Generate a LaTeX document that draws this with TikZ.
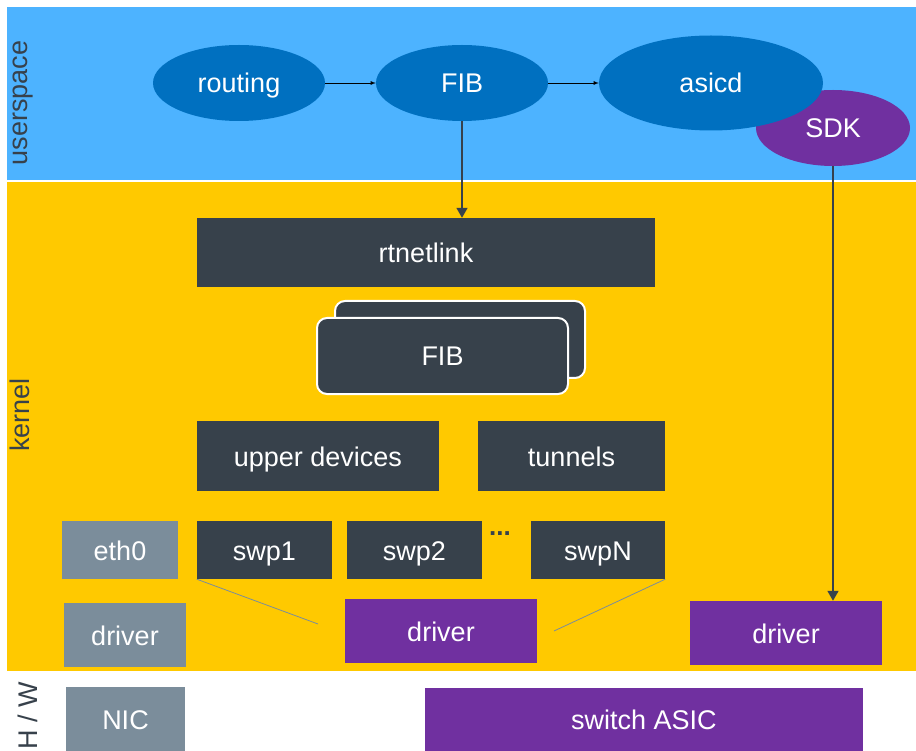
\documentclass[tikz,border=0pt]{standalone}
\usepackage{fontspec}
\setmainfont{Liberation Sans}
\usetikzlibrary{positioning,shapes.geometric,arrows,arrows.meta}
\definecolor{skyblue}{HTML}{4DB3FF}
\definecolor{ellblue}{HTML}{0070C0}
\definecolor{kernyellow}{HTML}{FFC900}
\definecolor{slate}{HTML}{37414B}
\definecolor{steel}{HTML}{7B8D9B}
\definecolor{asicpurple}{HTML}{7030A0}

\begin{document}
\begin{tikzpicture}[x=1pt,y=-1pt,
	lbl/.style={font=\fontsize{27}{31}\selectfont, text=white, inner sep=0pt, text height=21pt, text depth=1pt},
	proc/.style={lbl, ellipse, fill=ellblue},
	kbox/.style={lbl, rectangle, fill=slate},
	gbox/.style={lbl, rectangle, fill=steel},
	pbox/.style={lbl, rectangle, fill=asicpurple},
	fibbox/.style={kbox, rounded corners=10pt, draw=white, line width=2pt},
	layer/.style={font=\fontsize{27}{31}\selectfont, text=slate, rotate=90, inner sep=0pt}]
	\useasboundingbox (0, 0) rectangle (916, 751);

	% layers
	\fill[skyblue] (7, 7) rectangle (916, 180);
	\fill[kernyellow] (7, 182) rectangle (916, 671);
	\node[layer] (luser) at (23, 103) {userspace};
	\node[layer] (lkern) at (20, 415) {kernel};
	\node[layer] (lhw) at (28, 716) {H / W};

	% userspace
	\node[proc, minimum width=172, minimum height=76] (routing) at (239, 83) {routing};
	\node[proc, minimum width=172, minimum height=76] (fibu) at (462, 83) {FIB};
	\node[proc, fill=asicpurple, minimum width=154, minimum height=76] (sdk) at (833, 128) {SDK};
	\node[proc, minimum width=224, minimum height=95] (asicd) at (711, 83) {asicd};
	\draw[arrows=-latex, line width=0.8pt] (routing.east) -- (fibu.west);
	\draw[arrows=-latex, line width=0.8pt] (fibu.east) -- (asicd.west);

	% kernel
	\node[kbox, minimum width=458, minimum height=69] (rtnl) at (426, 252.5) {rtnetlink};
	\node[fibbox, minimum width=250, minimum height=77] (fibback) at (460, 339.5) {};
	\node[fibbox, minimum width=251, minimum height=76] (fibk) at (442.5, 356) {FIB};
	\node[kbox, minimum width=242, minimum height=70] (upper) at (318, 456) {upper devices};
	\node[kbox, minimum width=187, minimum height=70] (tunnels) at (571.5, 456) {tunnels};
	\node[gbox, minimum width=116, minimum height=58] (eth0) at (120, 550) {eth0};
	\node[kbox, minimum width=135, minimum height=58] (swp1) at (264.5, 550) {swp1};
	\node[kbox, minimum width=135, minimum height=58] (swp2) at (414.5, 550) {swp2};
	\node[font=\fontsize{26}{30}\selectfont\bfseries, text=slate, inner sep=0pt, anchor=base] (dots) at (500, 535) {...};
	\node[kbox, minimum width=134, minimum height=58] (swpN) at (598, 550) {swpN};
	\node[gbox, minimum width=122, minimum height=64] (drveth) at (125, 635) {driver};
	\node[pbox, minimum width=192, minimum height=64] (drvsw) at (441, 631) {driver};
	\node[pbox, minimum width=192, minimum height=64] (drvasic) at (786, 633) {driver};
	\coordinate (tl) at (318, 624);
	\coordinate (tr) at (554, 631);
	\draw[steel, line width=0.8pt] (swp1.south west) -- (tl);
	\draw[steel, line width=0.8pt] (swpN.south east) -- (tr);

	% hardware
	\node[gbox, minimum width=119, minimum height=64] (nic) at (125.5, 719) {NIC};
	\node[pbox, minimum width=438, minimum height=63] (asic) at (644, 719.5) {switch ASIC};

	% downward paths
	\draw[slate, arrows=-{Triangle[width=11pt,length=10pt]}, line width=1.6pt] (fibu.south) -- (fibu.south |- rtnl.north);
	\draw[slate, arrows=-{Triangle[width=11pt,length=10pt]}, line width=1.6pt] (sdk.south) -- (sdk.south |- drvasic.north);
\end{tikzpicture}
\end{document}
